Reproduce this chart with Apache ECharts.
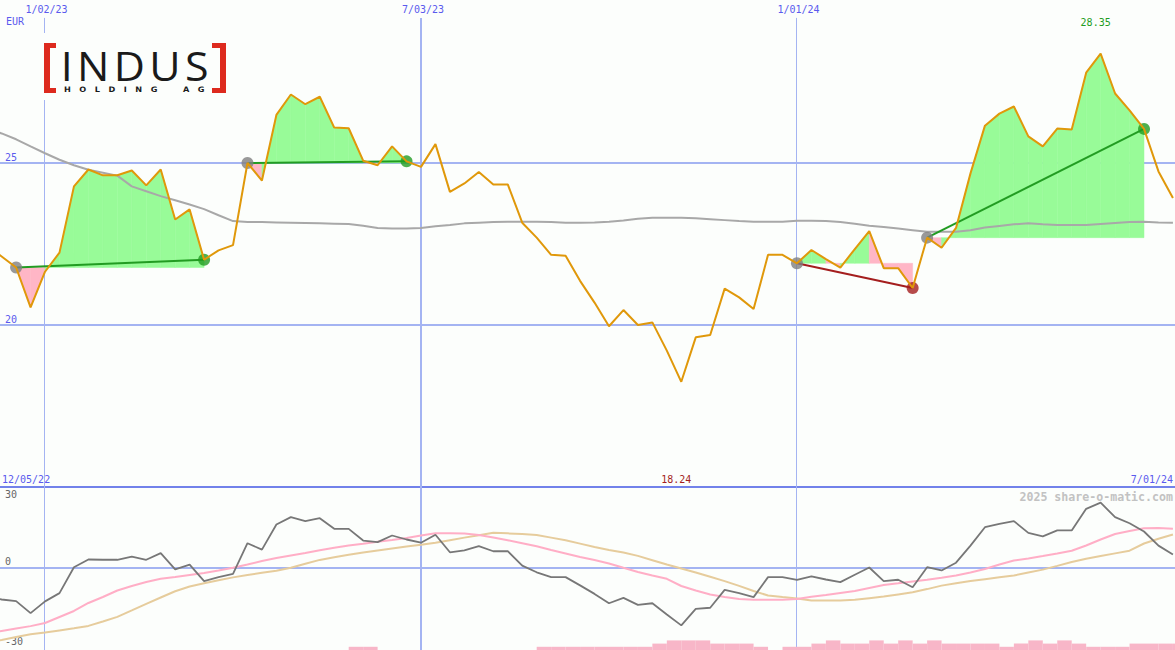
<!DOCTYPE html>
<html>
<head>
<meta charset="utf-8">
<script src="https://cdn.jsdelivr.net/npm/echarts@6/dist/echarts.min.js"></script>
<style>
html,body{margin:0;padding:0;background:#fcfefc;}
#chart{width:1175px;height:650px;}
</style>
</head>
<body>
<div id="chart"></div>
<script>
// ---------------- DATA (weekly closes, first week = 12/05/22) ----------------
const currency = 'EUR';
const firstLabel = '12/05/22';
const lastLabel = '7/01/24';
const highLabel = '28.35';
const lowLabel = '18.24';
const copyright = '2025 share-o-matic.com';
const logoWord = 'INDUS';
const logoSub = 'HOLDING AG';

const price = [
  22.42, 22.10, 21.76, 20.53, 21.63, 22.22, 24.26, 24.78, 24.60, 24.60,
  24.75, 24.29, 24.78, 23.24, 23.55, 22.00, 22.29, 22.45, 24.98, 24.44,
  26.46, 27.09, 26.79, 27.02, 26.07, 26.05, 25.05, 24.91, 25.49, 25.03,
  24.86, 25.56, 24.09, 24.35, 24.70, 24.32, 24.32, 23.14, 22.68, 22.15,
  22.12, 21.35, 20.68, 19.95, 20.45, 19.99, 20.07, 19.20, 18.24, 19.61,
  19.68, 21.11, 20.84, 20.48, 22.15, 22.15, 21.89, 22.30, 22.02, 21.76,
  22.33, 22.88, 21.74, 21.74, 21.13, 22.68, 22.37, 22.98, 24.66, 26.13,
  26.50, 26.72, 25.80, 25.49, 26.04, 26.01, 27.76, 28.35, 27.12, 26.60,
  26.03, 24.72, 23.90
];

const movingAvg = [
  26.04, 25.89, 25.71, 25.49, 25.28, 25.08, 24.91, 24.77, 24.68, 24.59,
  24.26, 24.11, 23.96, 23.83, 23.70, 23.56, 23.37, 23.19, 23.16, 23.16,
  23.15, 23.14, 23.13, 23.12, 23.11, 23.10, 23.05, 22.98, 22.96, 22.96,
  22.98, 23.03, 23.07, 23.12, 23.14, 23.16, 23.17, 23.17, 23.17, 23.16,
  23.14, 23.14, 23.15, 23.17, 23.21, 23.26, 23.29, 23.29, 23.29, 23.28,
  23.25, 23.22, 23.19, 23.17, 23.17, 23.17, 23.20, 23.20, 23.19, 23.16,
  23.11, 23.05, 23.01, 22.96, 22.91, 22.86, 22.86, 22.86, 22.91, 22.99,
  23.04, 23.09, 23.12, 23.09, 23.07, 23.07, 23.07, 23.10, 23.13, 23.16,
  23.17, 23.15, 23.14
];

const momentum = [
  -10.9, -12.0, -12.6, -17.1, -12.7, -9.6, 0.1, 3.0, 2.9, 2.9,
  4.1, 2.9, 5.4, -0.7, 1.1, -5.1, -3.6, -2.4, 9.1, 6.7,
  16.1, 18.9, 17.4, 18.5, 14.5, 14.5, 10.1, 9.5, 12.0, 10.5,
  9.3, 12.3, 5.7, 6.4, 8.0, 6.1, 6.1, 0.7, -1.8, -3.6,
  -3.6, -6.7, -9.9, -13.4, -11.4, -14.0, -13.4, -17.6, -21.7, -15.5,
  -15.1, -8.4, -9.6, -11.1, -3.6, -3.6, -4.6, -3.3, -4.5, -5.5,
  -2.7, 0.0, -5.1, -4.6, -7.4, 0.1, -1.1, 1.8, 8.2, 15.1,
  16.4, 17.4, 13.0, 11.7, 13.9, 13.9, 22.0, 24.3, 18.9, 16.6,
  13.5, 8.2, 4.9
];

const signalFast = [
  -24.75, -23.81, -22.88, -21.98, -20.81, -18.56, -16.31, -13.31, -11.06, -8.63,
  -6.94, -5.44, -4.24, -3.56, -2.81, -2.06, -1.13, -0.11, 1.13, 2.44,
  3.56, 4.50, 5.44, 6.45, 7.43, 8.25, 8.93, 9.64, 10.31, 11.06,
  12.00, 12.83, 12.83, 12.75, 12.19, 11.25, 10.20, 9.08, 7.95, 6.56,
  5.25, 3.94, 2.81, 1.50, -0.11, -1.69, -3.00, -4.24, -6.94, -8.63,
  -10.13, -11.06, -11.81, -12.11, -12.11, -12.11, -11.81, -10.99, -10.31, -9.56,
  -8.81, -7.69, -6.56, -5.93, -5.25, -4.58, -3.86, -3.00, -1.88, -0.56,
  1.13, 2.63, 3.38, 4.28, 5.25, 6.26, 8.25, 10.50, 12.56, 13.69,
  14.70, 14.81, 14.55
];

const signalSlow = [
  -28.1, -27.2, -26.1, -25.05, -24.4, -23.6, -22.8, -21.9, -20.25, -18.5,
  -16.1, -13.65, -11.25, -8.9, -7.1, -5.9, -4.76, -3.7, -2.8, -2.0,
  -1.24, -0.08, 1.43, 2.85, 3.83, 4.8, 5.6, 6.38, 7.16, 7.9,
  8.55, 9.26, 10.24, 11.2, 12.1, 13.0, 12.8, 12.56, 12.15, 11.2,
  10.2, 8.96, 7.7, 6.6, 5.6, 4.35, 2.74, 1.13, -0.38, -1.9,
  -3.5, -5.1, -6.9, -8.8, -10.5, -11.1, -11.6, -12.4, -12.4, -12.4,
  -12.1, -11.5, -10.9, -10.1, -9.3, -8.1, -6.8, -5.9, -5.1, -4.4,
  -3.7, -3.0, -1.9, -0.8, 0.6, 2.06, 3.3, 4.3, 5.3, 6.3,
  9.0, 10.8, 12.4
];

const volumeLevel = [
  0, 0, 0, 0, 0, 0, 0, 0, 0, 0,
  0, 0, 0, 0, 0, 0, 0, 0, 0, 0,
  0, 0, 0, 0, 0, 1, 1, 0, 0, 0,
  0, 0, 0, 0, 0, 0, 0, 0, 1, 1,
  1, 1, 1, 1, 1, 1, 2, 3, 3, 3,
  2, 2, 2, 1, 0, 1, 1, 2, 3, 2,
  2, 3, 2, 3, 2, 3, 2, 2, 2, 2,
  1, 2, 3, 2, 3, 2, 1, 1, 1, 2,
  2, 2, 2
];

// trades: index of entry week and exit week
const tradeEntry = [2, 18, 56, 65];
const tradeExit = [15, 29, 64, 80];

// vertical date grid lines
const gridDates = ['2023-01-02', '2023-07-03', '2024-01-01'];
const gridLabels = ['1/02/23', '7/03/23', '1/01/24'];
const priceTicks = [20, 25];
const oscTicks = [-30, 0, 30];

// ---------------- BUILD ----------------
const DAY = 86400000;
const dates = price.map((_, i) => Date.UTC(2022, 11, 5 + 7 * i));
const nextDates = price.map((_, i) => Date.UTC(2022, 11, 5 + 7 * (i + 1)));
const anchor = Date.UTC(2024, 0, 1);
const xMin = anchor - 385.8 * DAY;
const xMax = anchor + 183.0 * DAY;
const gridTimes = gridDates.map(d => Date.parse(d));
const gridLineWidth = [1, 2, 1];

const C = {
  bg: '#fcfefc', grid: '#a4b4f2', sep: '#7282ea', blue: '#5a5aee',
  price: '#e0980a', ma: '#a8a8a8', green: '#98fb98', pink: '#ffb6c6',
  gain: '#229c22', loss: '#a41e1e', entry: '#808080',
  mom: '#777777', fast: '#ffaec6', slow: '#e6cc9c', vol: '#f8b6c8'
};
const mono = 'DejaVu Sans Mono';

const fillData = [];
tradeEntry.forEach((en, t) => {
  const ex = tradeExit[t];
  for (let k = en; k < ex; k++) {
    fillData.push([dates[k], dates[k + 1], price[k], price[k + 1], price[en]]);
  }
});
const trendData = tradeEntry.map((en, t) => [dates[en], price[en], dates[tradeExit[t]], price[tradeExit[t]]]);
const dotData = [];
tradeEntry.forEach((en, t) => {
  const ex = tradeExit[t];
  dotData.push({ value: [dates[en], price[en]], itemStyle: { color: C.entry } });
  dotData.push({ value: [dates[ex], price[ex]], itemStyle: { color: price[ex] >= price[en] ? C.gain : C.loss } });
});
const volData = [];
volumeLevel.forEach((v, i) => { if (v > 0) volData.push([dates[i], nextDates[i], v]); });
const vlineData = gridTimes.map((t, i) => [t, i]);

const hiIdx = price.indexOf(Math.max(...price));
const loIdx = price.indexOf(Math.min(...price));

// ---- logo text measurement ----
const mctx = document.createElement('canvas').getContext('2d');
function measure(font, txt) {
  mctx.font = font;
  const m = mctx.measureText(txt);
  return { left: m.actualBoundingBoxLeft, ink: m.actualBoundingBoxLeft + m.actualBoundingBoxRight };
}
const logoText = logoWord.split('').join('\u200a');
const logoFont = '400 41px "Open Sans"';
const lm = measure(logoFont, logoText);
const logoScale = 142 / lm.ink;
const subText = logoSub.split('').map(ch => ch === ' ' ? '\u00a0\u00a0\u00a0' : ch).join('\u00a0\u00a0\u00a0');
const subFont = 'bold 7.5px "DejaVu Sans"';
const sm = measure(subFont, subText);
const subScale = 140.5 / sm.ink;

const chart = echarts.init(document.getElementById('chart'), null, { renderer: 'svg', width: 1175, height: 650 });

// vertical date lines drawn through the time axis
function vlineRender(yTop, yBot, withLabel) {
  return (params, api) => {
    const idx = api.value(1);
    const w = gridLineWidth[idx];
    const a = api.coord([api.value(0), yTop]);
    const b = api.coord([api.value(0), yBot]);
    const x = Math.round(a[0]) - (w % 2 ? 0.5 : 0);
    const children = [{ type: 'line', shape: { x1: x, y1: a[1], x2: x, y2: b[1] },
      style: { stroke: C.grid, lineWidth: w } }];
    if (withLabel) {
      children.push({ type: 'text', style: { text: gridLabels[idx], x: x + 2, y: a[1] - 8,
        align: 'center', verticalAlign: 'middle', fill: C.blue, font: '10px "' + mono + '"' } });
    }
    return { type: 'group', children };
  };
}

const option = {
  animation: false,
  backgroundColor: C.bg,
  grid: [
    { left: 0, right: 0, top: -2, height: 489 },
    { left: 0, right: 0, top: 487.5, height: 160 },
    { left: 0, right: 0, top: 487, height: 163 }
  ],
  xAxis: [
    { type: 'time', gridIndex: 0, min: xMin, max: xMax, position: 'bottom',
      axisLine: { show: true, onZero: false, lineStyle: { color: C.sep, width: 2 } },
      axisTick: { show: false }, axisLabel: { show: false }, splitLine: { show: false } },
    { type: 'time', gridIndex: 1, min: xMin, max: xMax, show: false },
    { type: 'time', gridIndex: 2, min: xMin, max: xMax, show: false }
  ],
  yAxis: [
    { type: 'value', gridIndex: 0, min: 15, max: 30, interval: 5,
      axisLine: { show: false }, axisTick: { show: false },
      splitLine: { show: true, showMinLine: false, showMaxLine: false, lineStyle: { color: C.grid, width: 2 } },
      axisLabel: { inside: true, margin: 5, color: C.blue, fontFamily: mono, fontSize: 10, verticalAlign: 'bottom',
        formatter: v => priceTicks.includes(v) ? String(v) : '' } },
    { type: 'value', gridIndex: 1, min: -30, max: 30, interval: 30,
      axisLine: { show: false }, axisTick: { show: false },
      splitLine: { show: true, showMinLine: false, showMaxLine: false, lineStyle: { color: C.grid, width: 2 } },
      axisLabel: { inside: true, margin: 5, color: '#666', fontFamily: mono, fontSize: 10, verticalAlign: 'middle',
        formatter: v => !oscTicks.includes(v) ? '' : (v === Math.max(...oscTicks) ? '{t|' + v + '}' : '{b|' + v + '}'),
        rich: {
          t: { padding: [14, 0, 0, 0], color: '#666', fontFamily: mono, fontSize: 10 },
          b: { padding: [0, 0, 12, 0], color: '#666', fontFamily: mono, fontSize: 10 }
        } } },
    { type: 'value', gridIndex: 2, min: 0, max: 163 / 3.2, show: false }
  ],
  series: [
    { // vertical date lines (top panel) with labels
      type: 'custom', xAxisIndex: 0, yAxisIndex: 0, z: 1, silent: true, clip: false,
      data: vlineData, renderItem: vlineRender(29.448, 15, true)
    },
    { // vertical date lines (bottom panel)
      type: 'custom', xAxisIndex: 2, yAxisIndex: 2, z: 1, silent: true,
      data: vlineData, renderItem: vlineRender(51, 0, false)
    },
    { // trade gain / loss fills
      type: 'custom', xAxisIndex: 0, yAxisIndex: 0, z: 2, silent: true,
      data: fillData,
      renderItem: (params, api) => {
        const e = api.value(4), p1 = api.value(3);
        const pts = [
          api.coord([api.value(0), e]), api.coord([api.value(0), api.value(2)]),
          api.coord([api.value(1), p1]), api.coord([api.value(1), e])
        ];
        const col = p1 >= e ? C.green : C.pink;
        return { type: 'polygon', shape: { points: pts }, style: { fill: col, stroke: col, lineWidth: 0.5 } };
      }
    },
    { // moving average
      type: 'line', xAxisIndex: 0, yAxisIndex: 0, z: 3, silent: true,
      data: dates.map((d, i) => [d, movingAvg[i]]),
      showSymbol: false, symbol: 'none', lineStyle: { color: C.ma, width: 2 }
    },
    { // trade trend lines
      type: 'custom', xAxisIndex: 0, yAxisIndex: 0, z: 4, silent: true,
      data: trendData,
      renderItem: (params, api) => {
        const a = api.coord([api.value(0), api.value(1)]);
        const b = api.coord([api.value(2), api.value(3)]);
        const up = api.value(3) >= api.value(1);
        return { type: 'line', shape: { x1: a[0], y1: a[1], x2: b[0], y2: b[1] },
          style: { stroke: up ? C.gain : C.loss, lineWidth: 2 } };
      }
    },
    { // entry / exit dots
      type: 'scatter', xAxisIndex: 0, yAxisIndex: 0, z: 5, silent: true,
      symbol: 'circle', symbolSize: 12, data: dotData
    },
    { // price
      type: 'line', xAxisIndex: 0, yAxisIndex: 0, z: 6, silent: true,
      data: dates.map((d, i) => [d, price[i]]),
      showSymbol: false, symbol: 'none', lineStyle: { color: C.price, width: 2 },
      markPoint: {
        silent: true, symbol: 'circle', symbolSize: 0, itemStyle: { color: 'rgba(0,0,0,0)' },
        label: { show: true, position: 'inside', fontFamily: mono, fontSize: 10, offset: [-5, 0] },
        data: [
          { coord: [dates[hiIdx], 29.294], label: { formatter: highLabel, color: C.gain } },
          { coord: [dates[loIdx], 15.245], label: { formatter: lowLabel, color: C.loss } }
        ]
      }
    },
    { type: 'line', xAxisIndex: 1, yAxisIndex: 1, z: 3, silent: true,
      data: dates.map((d, i) => [d, signalSlow[i]]), showSymbol: false, symbol: 'none',
      lineStyle: { color: C.slow, width: 2 } },
    { type: 'line', xAxisIndex: 1, yAxisIndex: 1, z: 4, silent: true,
      data: dates.map((d, i) => [d, signalFast[i]]), showSymbol: false, symbol: 'none',
      lineStyle: { color: C.fast, width: 2 } },
    { type: 'line', xAxisIndex: 1, yAxisIndex: 1, z: 5, silent: true,
      data: dates.map((d, i) => [d, momentum[i]]), showSymbol: false, symbol: 'none',
      lineStyle: { color: C.mom, width: 1.8 } },
    { // volume-like bars at the bottom
      type: 'custom', xAxisIndex: 2, yAxisIndex: 2, z: 2, silent: true,
      data: volData,
      renderItem: (params, api) => {
        const a = api.coord([api.value(0), api.value(2)]);
        const b = api.coord([api.value(1), 0]);
        return { type: 'rect', shape: { x: a[0], y: a[1], width: b[0] - a[0], height: b[1] - a[1] },
          style: { fill: C.vol } };
      }
    }
  ],
  graphic: [
    { type: 'text', x: 6, y: 21.5, z: 50, style: { text: currency, fill: C.blue, font: '10px "' + mono + '"', verticalAlign: 'middle' } },
    { type: 'text', x: 2, y: 479, z: 50, style: { text: firstLabel, fill: C.blue, font: '10px "' + mono + '"', verticalAlign: 'middle' } },
    { type: 'text', x: 1173, y: 479, z: 50, style: { text: lastLabel, fill: C.blue, font: '10px "' + mono + '"', verticalAlign: 'middle', align: 'right' } },
    { type: 'text', x: 1173, y: 496.5, z: 50, style: { text: copyright, fill: '#c2c2c2', font: 'bold 11.6px "' + mono + '"', verticalAlign: 'middle', align: 'right' } },
    { type: 'group', z: 100, children: [
      { type: 'rect', shape: { x: 36, y: 33, width: 198, height: 67 }, style: { fill: C.bg }, z: 100 },
      { type: 'rect', shape: { x: 44, y: 43, width: 6, height: 50 }, style: { fill: '#dd2a1e' }, z: 101 },
      { type: 'rect', shape: { x: 44, y: 43, width: 12, height: 5 }, style: { fill: '#dd2a1e' }, z: 101 },
      { type: 'rect', shape: { x: 44, y: 88, width: 12, height: 5 }, style: { fill: '#dd2a1e' }, z: 101 },
      { type: 'rect', shape: { x: 220, y: 43, width: 6, height: 50 }, style: { fill: '#dd2a1e' }, z: 101 },
      { type: 'rect', shape: { x: 212, y: 43, width: 14, height: 5 }, style: { fill: '#dd2a1e' }, z: 101 },
      { type: 'rect', shape: { x: 212, y: 88, width: 14, height: 5 }, style: { fill: '#dd2a1e' }, z: 101 },
      { type: 'text', x: 65 + lm.left * logoScale, y: 65, scaleX: logoScale, z: 101,
        style: { text: logoText, fill: '#1a1a1a', font: logoFont, verticalAlign: 'middle' } },
      { type: 'text', x: 64 + sm.left * subScale, y: 90, scaleX: subScale, z: 101,
        style: { text: subText, fill: '#1a1a1a', font: subFont, verticalAlign: 'middle' } }
    ] }
  ]
};
chart.setOption(option);
</script>
</body>
</html>
